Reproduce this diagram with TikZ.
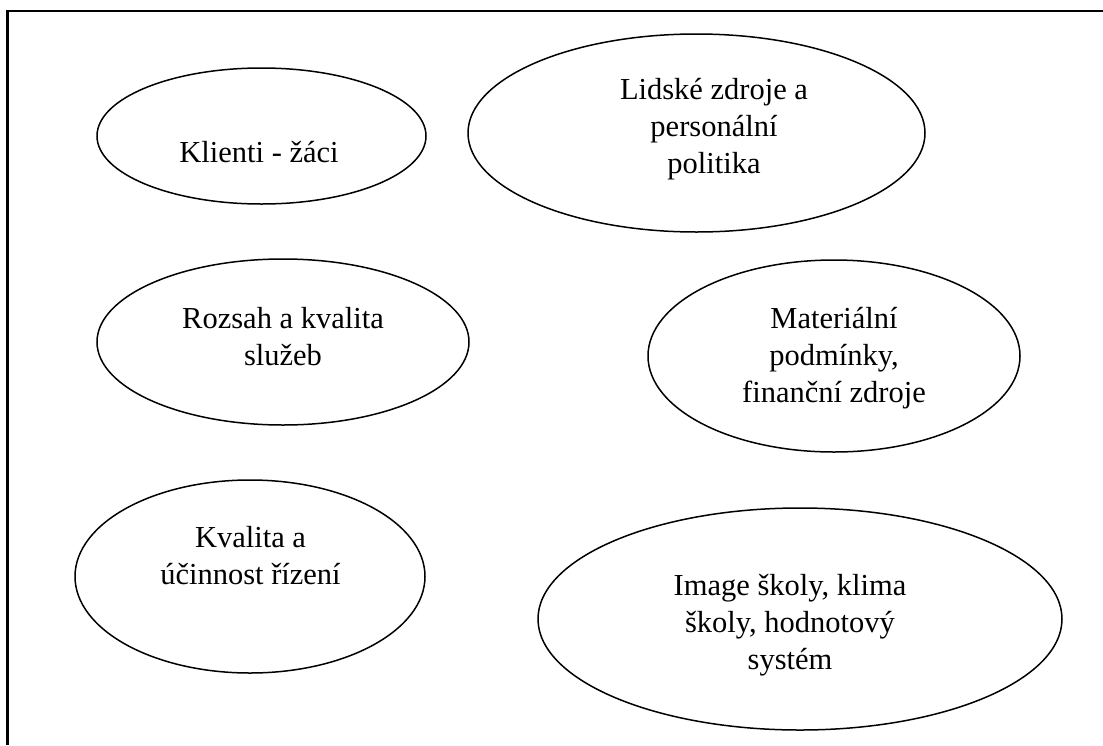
\documentclass[tikz,border=0pt]{standalone}
\usepackage{fontspec}
\setmainfont{Liberation Serif}
\usetikzlibrary{shapes.geometric}
\tikzset{
  oval/.style={ellipse, draw, line width=1.5pt, inner sep=0pt},
  lbl/.style={align=center, anchor=base, inner sep=0pt,
    font=\fontsize{30.5pt}{37pt}\selectfont}
}
\begin{document}
\begin{tikzpicture}[x=1pt,y=-1pt]
\useasboundingbox (0,0) rectangle (1103,745);
\fill[white] (0,0) rectangle (1103,745);
\draw[line width=2.6pt] (7.5,745) -- (7.5,11) -- (1103,11);
% ellipses
\node[oval, minimum width=329pt, minimum height=136pt] (e1) at (261.5,136) {};
\node[oval, minimum width=457pt, minimum height=198pt] (e2) at (696.5,133) {};
\node[oval, minimum width=372pt, minimum height=166pt] (e3) at (283,342) {};
\node[oval, minimum width=372pt, minimum height=192pt] (e4) at (834,356) {};
\node[oval, minimum width=350pt, minimum height=193pt] (e5) at (250,576.5) {};
\node[oval, minimum width=524pt, minimum height=222pt] (e6) at (800,619) {};
% labels (anchor base = baseline of the last line)
\node[lbl] (t1) at (259,162) {Klienti - žáci};
\node[lbl] (t2) at (714,173) {Lidské zdroje a\\personální\\politika};
\node[lbl] (t3) at (283,365) {Rozsah a kvalita\\služeb};
\node[lbl] (t4) at (834,402) {Materiální\\podmínky,\\finanční zdroje};
\node[lbl] (t5) at (250.5,584) {Kvalita a\\účinnost řízení};
\node[lbl] (t6) at (790,669) {Image školy, klima\\školy, hodnotový\\systém};
\end{tikzpicture}
\end{document}
